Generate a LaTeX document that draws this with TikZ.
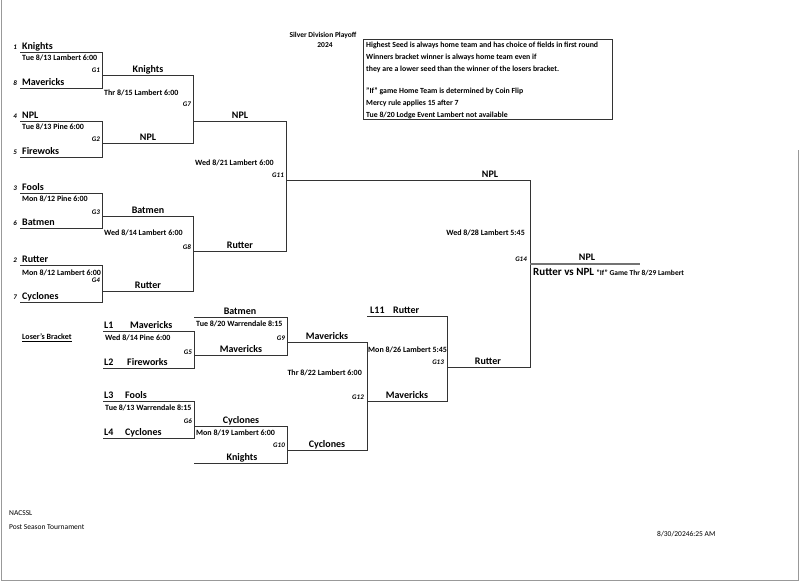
\documentclass[tikz,border=0pt]{standalone}
\usepackage{fontspec}
\setmainfont{Carlito}
\begin{document}
\begin{tikzpicture}[x=1pt,y=-1pt,
    bracket_line/.style={black!80,line width=0.8pt},
    final_line/.style={black!55,line width=2.2pt},
    page_edge/.style={black!40,line width=1.4pt},
    team_name/.style={font=\bfseries\fontsize{10}{11}\selectfont,anchor=base west,inner sep=0pt},
    winner_name/.style={font=\bfseries\fontsize{10}{11}\selectfont,anchor=base,inner sep=0pt},
    seed_num/.style={font=\bfseries\itshape\fontsize{7}{8}\selectfont,anchor=base east,inner sep=0pt},
    game_time/.style={font=\bfseries\fontsize{8}{9}\selectfont,anchor=west,inner sep=0pt},
    game_id/.style={font=\bfseries\itshape\fontsize{7}{8}\selectfont,anchor=east,inner sep=0pt},
    note_text/.style={font=\bfseries\fontsize{7.8}{9}\selectfont,anchor=west,inner sep=0pt},
    title_text/.style={font=\bfseries\fontsize{7.5}{9}\selectfont,inner sep=0pt},
    footer_text/.style={font=\fontsize{7.5}{9}\selectfont,anchor=west,inner sep=0pt}]
\useasboundingbox (0,0) rectangle (800,582);
% page edges of the scan
\coordinate (edge_tl) at (1.5,0);
\coordinate (edge_bl) at (1.5,580.5);
\coordinate (edge_br) at (798.5,580.5);
\coordinate (edge_tr) at (798.5,150);
\draw[page_edge] (edge_tl) -- (edge_bl) -- (edge_br) -- (edge_tr);
% header and notes
\node[title_text] (title) at (323,35) {Silver Division Playoff};
\node[title_text] (year) at (325,45.5) {2024};
\node[draw=black!80,line width=0.8pt,minimum width=249pt,minimum height=80pt,anchor=north west,inner sep=0pt] (notes) at (363,39) {};
\node[note_text] (note1) at (366,45) {Highest Seed is always home team and has choice of fields in first round};
\node[note_text] (note2) at (366,57) {Winners bracket winner is always home team even if};
\node[note_text] (note3) at (366,69) {they are a lower seed than the winner of the losers bracket.};
\node[note_text] (note4) at (366,91) {"If" game Home Team is determined by Coin Flip};
\node[note_text] (note5) at (366,103) {Mercy rule applies 15 after 7};
\node[note_text] (note6) at (366,115) {Tue 8/20 Lodge Event Lambert not available};
% G1
\coordinate (g1_in1) at (20,52); \coordinate (g1_top) at (102,52);
\coordinate (g1_bot) at (102,88); \coordinate (g1_in2) at (20,88);
\draw[bracket_line] (g1_in1) -- (g1_top) -- (g1_bot) -- (g1_in2);
\node[seed_num] (g1_seed1) at (17,49.5) {1};
\node[team_name] (g1_team1) at (22,49.5) {Knights};
\node[game_time] (g1_time) at (22,57.5) {Tue 8/13 Lambert 6:00};
\node[game_id] (g1_id) at (100,70) {G1};
\node[seed_num] (g1_seed2) at (17,85.5) {8};
\node[team_name] (g1_team2) at (22,85.5) {Mavericks};
% G2
\coordinate (g2_in1) at (20,121); \coordinate (g2_top) at (102,121);
\coordinate (g2_bot) at (102,157); \coordinate (g2_in2) at (20,157);
\draw[bracket_line] (g2_in1) -- (g2_top) -- (g2_bot) -- (g2_in2);
\node[seed_num] (g2_seed1) at (17,118.5) {4};
\node[team_name] (g2_team1) at (22,118.5) {NPL};
\node[game_time] (g2_time) at (22,127) {Tue 8/13 Pine 6:00};
\node[game_id] (g2_id) at (100,139) {G2};
\node[seed_num] (g2_seed2) at (17,154.5) {5};
\node[team_name] (g2_team2) at (22,154.5) {Firewoks};
% G3
\coordinate (g3_in1) at (20,193); \coordinate (g3_top) at (102,193);
\coordinate (g3_bot) at (102,228); \coordinate (g3_in2) at (20,228);
\draw[bracket_line] (g3_in1) -- (g3_top) -- (g3_bot) -- (g3_in2);
\node[seed_num] (g3_seed1) at (17,190.5) {3};
\node[team_name] (g3_team1) at (22,190.5) {Fools};
\node[game_time] (g3_time) at (22,199) {Mon 8/12 Pine 6:00};
\node[game_id] (g3_id) at (100,212) {G3};
\node[seed_num] (g3_seed2) at (17,225.5) {6};
\node[team_name] (g3_team2) at (22,225.5) {Batmen};
% G4
\coordinate (g4_in1) at (20,265); \coordinate (g4_top) at (102,265);
\coordinate (g4_bot) at (102,302); \coordinate (g4_in2) at (20,302);
\draw[bracket_line] (g4_in1) -- (g4_top) -- (g4_bot) -- (g4_in2);
\node[seed_num] (g4_seed1) at (17,262.5) {2};
\node[team_name] (g4_team1) at (22,262.5) {Rutter};
\node[game_time] (g4_time) at (22,273) {Mon 8/12 Lambert 6:00};
\node[game_id] (g4_id) at (100,280) {G4};
\node[seed_num] (g4_seed2) at (17,299.5) {7};
\node[team_name] (g4_team2) at (22,299.5) {Cyclones};
% G7
\coordinate (g7_in1) at (102,75); \coordinate (g7_top) at (193,75);
\coordinate (g7_bot) at (193,143); \coordinate (g7_in2) at (102,143);
\draw[bracket_line] (g7_in1) -- (g7_top) -- (g7_bot) -- (g7_in2);
\node[winner_name] (g7_team1) at (148,72.5) {Knights};
\node[game_time] (g7_time) at (104,93) {Thr 8/15 Lambert 6:00};
\node[game_id] (g7_id) at (191,104) {G7};
\node[winner_name] (g7_team2) at (148,140.5) {NPL};
% G8
\coordinate (g8_in1) at (102,216); \coordinate (g8_top) at (193,216);
\coordinate (g8_bot) at (193,291); \coordinate (g8_in2) at (102,291);
\draw[bracket_line] (g8_in1) -- (g8_top) -- (g8_bot) -- (g8_in2);
\node[winner_name] (g8_team1) at (148,213.5) {Batmen};
\node[game_time] (g8_time) at (104,233) {Wed 8/14 Lambert 6:00};
\node[game_id] (g8_id) at (191,247) {G8};
\node[winner_name] (g8_team2) at (148,288.5) {Rutter};
% G11
\coordinate (g11_in1) at (193,121); \coordinate (g11_top) at (286,121);
\coordinate (g11_bot) at (286,251); \coordinate (g11_in2) at (193,251);
\draw[bracket_line] (g11_in1) -- (g11_top) -- (g11_bot) -- (g11_in2);
\node[winner_name] (g11_team1) at (240,118.5) {NPL};
\node[game_time] (g11_time) at (195,163) {Wed 8/21 Lambert 6:00};
\node[game_id] (g11_id) at (284,175) {G11};
\node[winner_name] (g11_team2) at (240,248.5) {Rutter};
% G5
\coordinate (g5_in1) at (103,331); \coordinate (g5_top) at (194,331);
\coordinate (g5_bot) at (194,368); \coordinate (g5_in2) at (103,368);
\draw[bracket_line] (g5_in1) -- (g5_top) -- (g5_bot) -- (g5_in2);
\node[team_name] (g5_slot1) at (104,328.5) {L1};
\node[team_name] (g5_team1) at (130,328.5) {Mavericks};
\node[game_time] (g5_time) at (105,338) {Wed 8/14 Pine 6:00};
\node[game_id] (g5_id) at (192,352) {G5};
\node[team_name] (g5_slot2) at (104,365.5) {L2};
\node[team_name] (g5_team2) at (127,365.5) {Fireworks};
% G6
\coordinate (g6_in1) at (103,401); \coordinate (g6_top) at (194,401);
\coordinate (g6_bot) at (194,438); \coordinate (g6_in2) at (103,438);
\draw[bracket_line] (g6_in1) -- (g6_top) -- (g6_bot) -- (g6_in2);
\node[team_name] (g6_slot1) at (104,398.5) {L3};
\node[team_name] (g6_team1) at (125,398.5) {Fools};
\node[game_time] (g6_time) at (105,408) {Tue 8/13 Warrendale 8:15};
\node[game_id] (g6_id) at (192,421) {G6};
\node[team_name] (g6_slot2) at (104,435.5) {L4};
\node[team_name] (g6_team2) at (125,435.5) {Cyclones};
% G9
\coordinate (g9_in1) at (194,317); \coordinate (g9_top) at (287,317);
\coordinate (g9_bot) at (287,355); \coordinate (g9_in2) at (194,355);
\draw[bracket_line] (g9_in1) -- (g9_top) -- (g9_bot) -- (g9_in2);
\node[winner_name] (g9_team1) at (240,314.5) {Batmen};
\node[game_time] (g9_time) at (196,324) {Tue 8/20 Warrendale 8:15};
\node[game_id] (g9_id) at (285,338) {G9};
\node[winner_name] (g9_team2) at (241,352.5) {Mavericks};
% G10
\coordinate (g10_in1) at (194,426); \coordinate (g10_top) at (287,426);
\coordinate (g10_bot) at (287,463); \coordinate (g10_in2) at (194,463);
\draw[bracket_line] (g10_in1) -- (g10_top) -- (g10_bot) -- (g10_in2);
\node[winner_name] (g10_team1) at (241,423.5) {Cyclones};
\node[game_time] (g10_time) at (196,433) {Mon 8/19 Lambert 6:00};
\node[game_id] (g10_id) at (285,445) {G10};
\node[winner_name] (g10_team2) at (242,460.5) {Knights};
% G12
\coordinate (g12_in1) at (287,342); \coordinate (g12_top) at (367,342);
\coordinate (g12_bot) at (367,450); \coordinate (g12_in2) at (287,450);
\draw[bracket_line] (g12_in1) -- (g12_top) -- (g12_bot) -- (g12_in2);
\node[winner_name] (g12_team1) at (327,339.5) {Mavericks};
\node[game_time,anchor=east] (g12_time) at (362,373) {Thr 8/22 Lambert 6:00};
\node[game_id] (g12_id) at (364,397) {G12};
\node[winner_name] (g12_team2) at (327,447.5) {Cyclones};
% G13
\coordinate (g13_in1) at (367,316); \coordinate (g13_top) at (447,316);
\coordinate (g13_bot) at (447,401); \coordinate (g13_in2) at (367,401);
\draw[bracket_line] (g13_in1) -- (g13_top) -- (g13_bot) -- (g13_in2);
\node[team_name] (g13_slot1) at (370,313.5) {L11};
\node[team_name] (g13_team1) at (393,313.5) {Rutter};
\node[game_time] (g13_time) at (368,350) {Mon 8/26 Lambert 5:45};
\node[game_id] (g13_id) at (444,362) {G13};
\node[winner_name] (g13_team2) at (407,398.5) {Mavericks};
% G14
\coordinate (g14_in1) at (286,180); \coordinate (g14_top) at (530,180);
\coordinate (g14_bot) at (530,367); \coordinate (g14_in2) at (447,367);
\draw[bracket_line] (g14_in1) -- (g14_top) -- (g14_bot) -- (g14_in2);
\node[winner_name] (g14_team1) at (490,177.5) {NPL};
\node[game_time,anchor=east] (g14_time) at (525,233) {Wed 8/28 Lambert 5:45};
\node[game_id] (g14_id) at (527,259) {G14};
\node[winner_name] (g14_team2) at (488,364.5) {Rutter};
% champion
\coordinate (champ_in) at (530,264); \coordinate (champ_end) at (640,264);
\draw[final_line] (champ_in) -- (champ_end);
\node[winner_name] (champ_team) at (587,260.5) {NPL};
\node[anchor=base west,inner sep=0pt] (if_game) at (533,275) {\bfseries\fontsize{11}{12}\selectfont Rutter vs NPL \fontsize{7.5}{9}\selectfont "If" Game Thr 8/29 Lambert};
% losers bracket label and footer
\node[game_time] (losers_label) at (22,338) {\underline{Loser's Bracket}};
\node[footer_text] (league) at (9,513) {NACSSL};
\node[footer_text] (event) at (9,527) {Post Season Tournament};
\node[footer_text] (stamp) at (657,534) {8/30/20246:25 AM};
\end{tikzpicture}
\end{document}
